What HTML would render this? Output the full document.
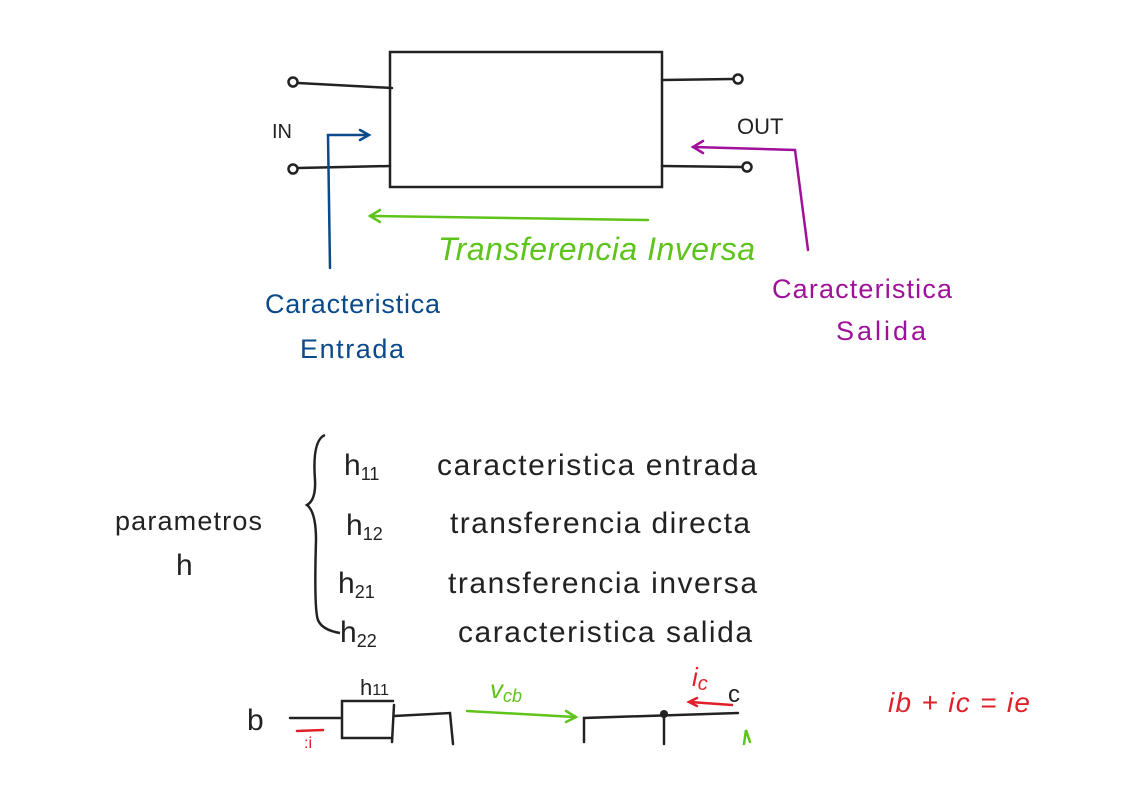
<!DOCTYPE html>
<html><head><meta charset="utf-8"><style>
html,body{margin:0;padding:0;background:#fff;}
svg{display:block}
text{font-family:"Liberation Sans",sans-serif;}
</style></head><body>
<svg width="1123" height="793" viewBox="0 0 1123 793" xmlns="http://www.w3.org/2000/svg">
<g fill="none" stroke="#222" stroke-width="2.5" stroke-linecap="round">
<rect x="390" y="52" width="272" height="135"/>
<line x1="298" y1="83" x2="392" y2="88"/>
<circle cx="293" cy="82" r="4.5"/>
<line x1="298" y1="168" x2="390" y2="166"/>
<circle cx="293" cy="169" r="4.5"/>
<line x1="662" y1="80" x2="733" y2="79"/>
<circle cx="738" cy="79" r="4.5"/>
<line x1="662" y1="166" x2="742" y2="167"/>
<circle cx="747" cy="167" r="4.5"/>
</g>
<g fill="none" stroke="#0a4a8a" stroke-width="2.5" stroke-linecap="round">
<path d="M330 268 L328 135 L368 135"/><path d="M360 130 L369 135 L360 140"/>
</g>
<g fill="none" stroke="#a0109a" stroke-width="2.5" stroke-linecap="round">
<path d="M808 250 L795 150 L693 147"/><path d="M703 141 L693 147 L703 153"/>
</g>
<g fill="none" stroke="#5ec41c" stroke-width="2.5" stroke-linecap="round">
<path d="M648 220 L370 216"/><path d="M380 210 L370 216 L380 222"/>
</g>
<text x="272" y="138" font-size="20" fill="#222">IN</text>
<text x="737" y="134" font-size="22" fill="#222">OUT</text>
<text x="438" y="260" font-size="32" fill="#5ec41c" font-style="italic" textLength="317">Transferencia Inversa</text>
<text x="265" y="313" font-size="27" fill="#0a4a8a" textLength="175">Caracteristica</text>
<text x="300" y="358" font-size="27" fill="#0a4a8a" textLength="104">Entrada</text>
<text x="772" y="298" font-size="27" fill="#a0109a" textLength="180">Caracteristica</text>
<text x="836" y="340" font-size="27" fill="#a0109a" textLength="90">Salida</text>
<text x="115" y="530" font-size="27" fill="#222" textLength="147">parametros</text>
<text x="176" y="575" font-size="30" fill="#222">h</text>
<path d="M325 435 Q312 440 315 480 Q316 500 307 505 Q316 512 316 540 Q314 610 318 620 Q322 630 340 633" fill="none" stroke="#222" stroke-width="2.5"/>
<g font-size="30" fill="#222">
<text x="344" y="475">h<tspan font-size="18" dy="5">11</tspan></text>
<text x="437" y="475" textLength="320">caracteristica entrada</text>
<text x="346" y="535">h<tspan font-size="18" dy="5">12</tspan></text>
<text x="450" y="533" textLength="300">transferencia directa</text>
<text x="338" y="593">h<tspan font-size="18" dy="5">21</tspan></text>
<text x="448" y="593" textLength="309">transferencia inversa</text>
<text x="340" y="642">h<tspan font-size="18" dy="5">22</tspan></text>
<text x="458" y="642" textLength="294">caracteristica salida</text>
</g>
<g fill="none" stroke="#222" stroke-width="2.5" stroke-linecap="round">
<line x1="290" y1="718" x2="340" y2="718"/>
<path d="M393 701 L342 701 L342 738 L391 738"/>
<line x1="394" y1="705" x2="392" y2="742"/>
<path d="M394 716 L450 713 L453 744"/>
<path d="M584 742 L584 718 L738 713"/>
<line x1="664" y1="714" x2="664" y2="744"/>
</g>
<circle cx="664" cy="714" r="4" fill="#222"/>
<text x="247" y="730" font-size="30" fill="#222">b</text>
<text x="360" y="695" font-size="22" fill="#222">h<tspan font-size="16">11</tspan></text>
<text x="728" y="702" font-size="24" fill="#222">c</text>
<g fill="none" stroke="#5ec41c" stroke-width="2.5" stroke-linecap="round">
<path d="M467 711 L575 717"/><path d="M566 711 L576 717 L566 722"/>
<path d="M744 744 L746 730 L750 742"/>
</g>
<text x="490" y="698" font-size="26" fill="#5ec41c" font-style="italic">v<tspan font-size="18" dy="4">cb</tspan></text>
<g fill="none" stroke="#e0202a" stroke-width="2.5" stroke-linecap="round">
<path d="M732 705 L690 702"/><path d="M697 698 L689 702 L697 706"/>
<line x1="297" y1="731" x2="323" y2="730"/>
</g>
<text x="692" y="686" font-size="26" fill="#e0202a" font-style="italic">i<tspan font-size="20" dy="4">c</tspan></text>
<text x="888" y="712" font-size="28" fill="#e0202a" font-style="italic" textLength="142">ib + ic = ie</text>
<text x="304" y="748" font-size="16" fill="#e0202a">:i</text>
</svg>
</body></html>
